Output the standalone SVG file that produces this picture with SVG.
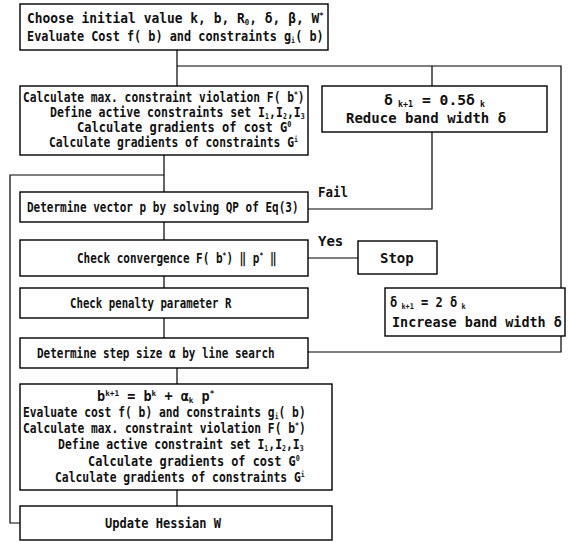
<svg xmlns="http://www.w3.org/2000/svg" width="568" height="542" viewBox="0 0 568 542">
<style>
.b{fill:#fff;stroke:#000;stroke-width:1.4}
.c{fill:none;stroke:#000;stroke-width:1.2}
text{font-family:"DejaVu Sans Mono","Liberation Mono",monospace;font-size:14px;font-weight:bold;fill:#111}
.s{font-size:8px}
</style>
<rect width="568" height="542" fill="#fff"/>
<g id="connectors">
<path class="c" d="M177 50V86M177 66H561V288M432 66V86M432 132V209H308M164 155V192M20 523H10V175H164M164 222V240M308 258H358M164 276V288M164 318V338M308 352H561V336M177 368V384M177 490V506"/>
</g>
<g id="init">
<rect class="b" x="20" y="4" width="308" height="46"/>
<text transform="matrix(0.923 0 0 1 27 23)">Choose initial value k, b, R<tspan class="s" dy="2">0</tspan><tspan dy="-2">, δ, β, W</tspan><tspan class="s" dy="-5">*</tspan></text>
<text transform="matrix(0.847 0 0 1 27 41)">Evaluate Cost f( b) and constraints g<tspan class="s" dy="2">i</tspan><tspan dy="-2">( b)</tspan></text>
</g>
<g id="calc1">
<rect class="b" x="20" y="86" width="288" height="69"/>
<text transform="matrix(0.805 0 0 1 23 102)">Calculate max. constraint violation F( b<tspan class="s" dy="-5">*</tspan><tspan dy="5">)</tspan></text>
<text transform="matrix(0.824 0 0 1 50 117)">Define active constraints set I<tspan class="s" dy="2">1</tspan><tspan dy="-2">,I</tspan><tspan class="s" dy="2">2</tspan><tspan dy="-2">,I</tspan><tspan class="s" dy="2">3</tspan></text>
<text transform="matrix(0.861 0 0 1 77 132)">Calculate gradients of cost  G<tspan class="s" dy="-5">0</tspan></text>
<text transform="matrix(0.808 0 0 1 49 147)">Calculate gradients of constraints G<tspan class="s" dy="-5">i</tspan></text>
</g>
<g id="reduce">
<rect class="b" x="322" y="86" width="225" height="46"/>
<text transform="matrix(1.05 0 0 1 384 105)">δ<tspan class="s" dy="2"> k+1</tspan><tspan dy="-2"> = 0.5δ</tspan><tspan class="s" dy="2"> k</tspan></text>
<text transform="matrix(1 0 0 1 346 123)">Reduce band width δ</text>
</g>
<g id="qp">
<rect class="b" x="20" y="192" width="288" height="30"/>
<text transform="matrix(0.787 0 0 1 27 212)">Determine vector p by solving QP of Eq(3)</text>
</g>
<text transform="matrix(0.89 0 0 1 318 197)">Fail</text>
<g id="conv">
<rect class="b" x="20" y="240" width="288" height="36"/>
<text transform="matrix(0.786 0 0 1 77 263)">Check convergence  F( b<tspan class="s" dy="-5">*</tspan><tspan dy="5">)  ‖ p</tspan><tspan class="s" dy="-5">*</tspan><tspan dy="5"> ‖</tspan></text>
</g>
<text transform="matrix(1 0 0 1 318 246)">Yes</text>
<g id="stop">
<rect class="b" x="358" y="241" width="79" height="33"/>
<text transform="matrix(1 0 0 1 380 263)">Stop</text>
</g>
<g id="penalty">
<rect class="b" x="20" y="288" width="288" height="30"/>
<text transform="matrix(0.766 0 0 1 70 308)">Check penalty parameter  R</text>
</g>
<g id="increase">
<rect class="b" x="385" y="288" width="180" height="48"/>
<text transform="matrix(0.86 0 0 1 390 307)">δ<tspan class="s" dy="2"> k+1</tspan><tspan dy="-2"> =  2  δ</tspan><tspan class="s" dy="2"> k</tspan></text>
<text transform="matrix(0.96 0 0 1 392 327)">Increase band width δ</text>
</g>
<g id="step">
<rect class="b" x="20" y="338" width="288" height="30"/>
<text transform="matrix(0.784 0 0 1 37 358)">Determine step size α by line search</text>
</g>
<g id="update">
<rect class="b" x="20" y="384" width="312" height="106"/>
<text transform="matrix(0.965 0 0 1 97 401)">b<tspan class="s" dy="-5">k+1</tspan><tspan dy="5">  =  b</tspan><tspan class="s" dy="-5">k</tspan><tspan dy="5">  +  α</tspan><tspan class="s" dy="2">k</tspan><tspan dy="-2">  p</tspan><tspan class="s" dy="-5">*</tspan></text>
<text transform="matrix(0.807 0 0 1 23 417)">Evaluate cost f( b) and constraints g<tspan class="s" dy="2">i</tspan><tspan dy="-2">( b)</tspan></text>
<text transform="matrix(0.807 0 0 1 23 433)">Calculate max. constraint violation F( b<tspan class="s" dy="-5">*</tspan><tspan dy="5">)</tspan></text>
<text transform="matrix(0.817 0 0 1 58 449)">Define active constraint set I<tspan class="s" dy="2">1</tspan><tspan dy="-2">,I</tspan><tspan class="s" dy="2">2</tspan><tspan dy="-2">,I</tspan><tspan class="s" dy="2">3</tspan></text>
<text transform="matrix(0.85 0 0 1 88 466)">Calculate gradients of cost G<tspan class="s" dy="-5">0</tspan></text>
<text transform="matrix(0.811 0 0 1 55 482)">Calculate gradients of constraints G<tspan class="s" dy="-5">i</tspan></text>
</g>
<g id="hessian">
<rect class="b" x="20" y="506" width="312" height="34"/>
<text transform="matrix(0.86 0 0 1 105 528)">Update Hessian W</text>
</g>
</svg>
